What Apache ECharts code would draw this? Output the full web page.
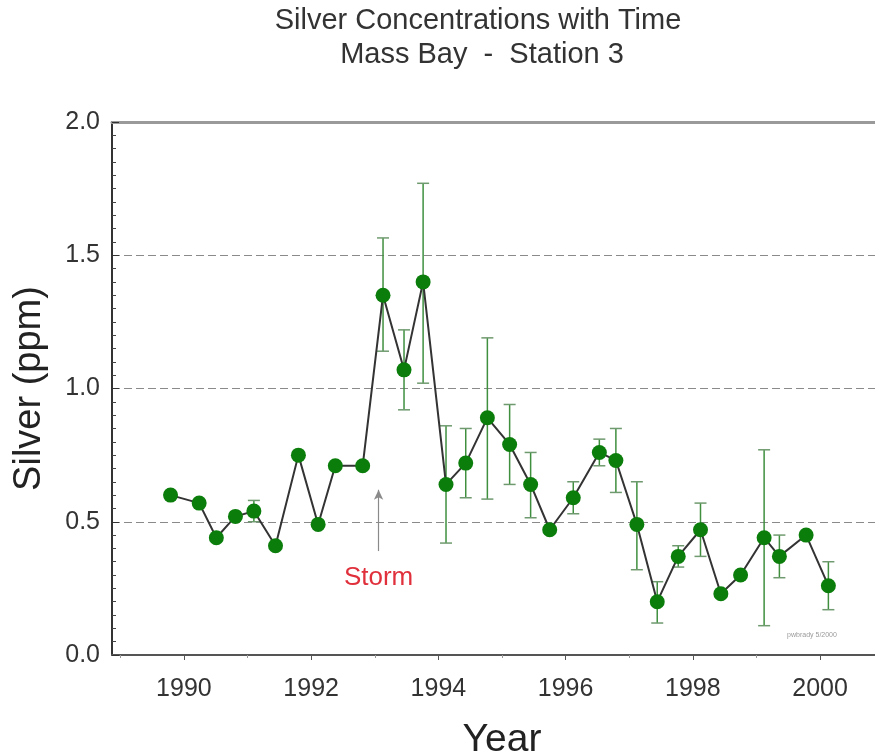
<!DOCTYPE html>
<html>
<head>
<meta charset="utf-8">
<script src="https://cdn.jsdelivr.net/npm/echarts@6/dist/echarts.min.js"></script>
<style>
  html, body { margin: 0; padding: 0; background: #fff; }
  #chart { width: 875px; height: 755px; }
</style>
</head>
<body>
<div id="chart"></div>
<script>
// Sampling dates (decimal year) and measured silver, ppm
const years = [1989.79, 1990.24, 1990.51, 1990.81, 1991.10, 1991.44, 1991.80, 1992.11,
               1992.38, 1992.81, 1993.13, 1993.46, 1993.76, 1994.12, 1994.43, 1994.77,
               1995.12, 1995.45, 1995.75, 1996.12, 1996.53, 1996.79, 1997.12, 1997.44,
               1997.77, 1998.12, 1998.44, 1998.75, 1999.12, 1999.36, 1999.78, 2000.13];
const silver = [0.60, 0.57, 0.44, 0.52, 0.54, 0.41, 0.75, 0.49,
                0.71, 0.71, 1.35, 1.07, 1.40, 0.64, 0.72, 0.89,
                0.79, 0.64, 0.47, 0.59, 0.76, 0.73, 0.49, 0.20,
                0.37, 0.47, 0.23, 0.30, 0.44, 0.37, 0.45, 0.26];
// Error bar limits (null = no bar)
const errLow = [null, null, null, null, 0.50, null, null, null,
                null, null, 1.14, 0.92, 1.02, 0.42, 0.59, 0.585,
                0.64, 0.515, null, 0.53, 0.71, 0.61, 0.32, 0.12,
                0.33, 0.37, null, null, 0.11, 0.29, null, 0.17];
const errHigh = [null, null, null, null, 0.58, null, null, null,
                 null, null, 1.565, 1.22, 1.77, 0.86, 0.85, 1.19,
                 0.94, 0.76, null, 0.65, 0.81, 0.85, 0.65, 0.275,
                 0.41, 0.57, null, null, 0.77, 0.45, null, 0.35];

// Axis tick values
const majorYears = [1990, 1992, 1994, 1996, 1998, 2000];
const minorYears = [1989, 1991, 1993, 1995, 1997, 1999, 2001];

// Storm event marker
const stormYear = 1993.06;
const stormArrow = [0.39, 0.62];
const stormLabelAt = 0.29;

const FONT = '"Liberation Sans", Arial, Helvetica, sans-serif';
const xMin = 1988.87, xMax = 2001.13;

const pointData = years.map((y, i) => [y, silver[i]]);
const errData = years
  .map((y, i) => [y, errLow[i], errHigh[i]])
  .filter(d => d[1] !== null && d[2] !== null);

const chart = echarts.init(document.getElementById('chart'), null, { renderer: 'canvas' });

chart.setOption({
  backgroundColor: '#ffffff',
  animation: false,
  grid: { left: 112, top: 122, bottom: 100, right: -17, containLabel: false, outerBoundsMode: 'none' },
  xAxis: [
    {
      type: 'value', min: xMin, max: xMax, position: 'bottom',
      name: 'Year', nameLocation: 'middle', nameGap: 66,
      nameTextStyle: { fontFamily: FONT, fontSize: 39, color: '#222' },
      axisLine: { show: true, onZero: false, lineStyle: { color: '#555', width: 2 } },
      axisTick: { show: true, inside: false, length: 5, customValues: majorYears,
                  lineStyle: { color: '#555', width: 1 } },
      axisLabel: { show: true, customValues: majorYears, margin: 22,
                   fontFamily: FONT, fontSize: 25, color: '#333',
                   formatter: v => String(Math.round(v)) },
      splitLine: { show: false }
    },
    {
      // odd-year minor ticks
      type: 'value', min: xMin, max: xMax, position: 'bottom',
      axisLine: { show: false, onZero: false },
      axisTick: { show: true, inside: false, length: 3, customValues: minorYears,
                  lineStyle: { color: '#999', width: 1 } },
      axisLabel: { show: false },
      splitLine: { show: false }
    },
    {
      // top frame line
      type: 'value', min: xMin, max: xMax, position: 'top',
      axisLine: { show: true, onZero: false, lineStyle: { color: '#9a9a9a', width: 3 } },
      axisTick: { show: false }, axisLabel: { show: false }, splitLine: { show: false }
    }
  ],
  yAxis: {
    type: 'value', min: 0, max: 2, interval: 0.5,
    name: 'Silver (ppm)', nameLocation: 'middle', nameGap: 63, nameRotate: 90,
    nameTextStyle: { fontFamily: FONT, fontSize: 38, color: '#222' },
    axisLine: { show: true, onZero: false, lineStyle: { color: '#333', width: 2 } },
    axisTick: { show: true, inside: true, length: 7, lineStyle: { color: '#333', width: 1 } },
    minorTick: { show: true, splitNumber: 10, length: 4, lineStyle: { color: '#444', width: 1 } },
    axisLabel: { margin: 12, fontFamily: FONT, fontSize: 25, color: '#333',
                 formatter: v => v.toFixed(1) },
    splitLine: { show: true, lineStyle: { color: '#8a8a8a', width: 1, type: [8, 4] } }
  },
  graphic: [
    { type: 'text', x: 478, y: 6, z: 100,
      style: { text: 'Silver Concentrations with Time', font: '29px ' + FONT,
               fill: '#333', align: 'center', textAlign: 'center' } },
    { type: 'text', x: 482, y: 40, z: 100,
      style: { text: 'Mass Bay  -  Station 3', font: '29px ' + FONT,
               fill: '#333', align: 'center', textAlign: 'center' } },
    { type: 'text', x: 812, y: 632, z: 100,
      style: { text: 'pwbrady 5/2000', font: '7px ' + FONT,
               fill: '#9a9a9a', align: 'center', textAlign: 'center' } }
  ],
  series: [
    {
      name: 'error',
      type: 'custom',
      xAxisIndex: 0,
      z: 2,
      encode: { x: 0, y: [1, 2] },
      data: errData,
      renderItem: (params, api) => {
        const x = api.value(0);
        const lo = api.coord([x, api.value(1)]);
        const hi = api.coord([x, api.value(2)]);
        const w = 6;
        const st = { stroke: '#3f8f3f', lineWidth: 1.5 };
        const capSt = { stroke: '#6f9a6f', lineWidth: 1.5 };
        return {
          type: 'group',
          children: [
            { type: 'line', shape: { x1: lo[0], y1: lo[1], x2: hi[0], y2: hi[1] }, style: st },
            { type: 'line', shape: { x1: hi[0] - w, y1: hi[1], x2: hi[0] + w, y2: hi[1] }, style: capSt },
            { type: 'line', shape: { x1: lo[0] - w, y1: lo[1], x2: lo[0] + w, y2: lo[1] }, style: capSt }
          ]
        };
      }
    },
    {
      name: 'Silver',
      type: 'line',
      xAxisIndex: 0,
      z: 3,
      data: pointData,
      symbol: 'circle',
      symbolSize: 15,
      showSymbol: true,
      itemStyle: { color: '#0b7d0b', borderWidth: 0 },
      lineStyle: { color: '#333', width: 2 },
      markLine: {
        silent: true,
        symbol: ['none', 'arrow'],
        symbolSize: [7, 10],
        lineStyle: { color: '#8a8a8a', width: 1.2, type: 'solid' },
        label: { show: false },
        data: [[{ coord: [stormYear, stormArrow[0]] }, { coord: [stormYear, stormArrow[1]] }]]
      },
      markPoint: {
        silent: true,
        symbol: 'circle',
        symbolSize: 0,
        label: { show: true, position: 'inside', formatter: 'Storm',
                 fontFamily: FONT, fontSize: 26, color: '#e0303c' },
        data: [{ coord: [stormYear, stormLabelAt] }]
      }
    }
  ]
});
</script>
</body>
</html>
